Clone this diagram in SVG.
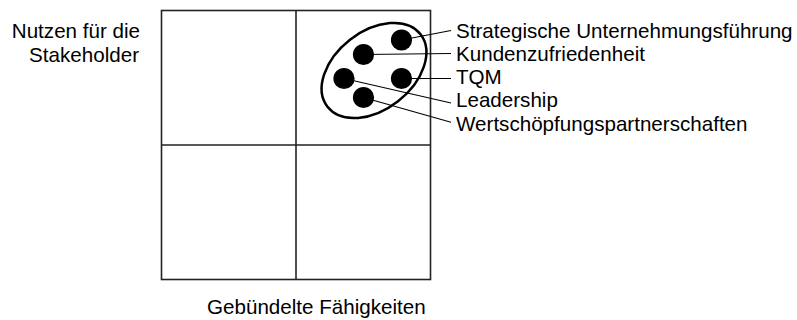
<svg xmlns="http://www.w3.org/2000/svg" width="797" height="320" viewBox="0 0 797 320">
  <style>
    .lbl { font-family: "Liberation Sans", Arial, sans-serif; font-size: 20.6px; fill: #000; }
    .grid { fill: none; stroke: #222; stroke-width: 1.6; }
    .lead { stroke: #000; stroke-width: 1.1; fill: none; }
    .dot { fill: #000; }
  </style>
  <rect width="797" height="320" fill="#fff"/>

  <!-- 2x2 portfolio grid -->
  <g id="matrix">
    <rect class="grid" x="161.5" y="10.5" width="269" height="269"/>
    <line class="grid" x1="296" y1="10.5" x2="296" y2="279.5"/>
    <line class="grid" x1="161.5" y1="145" x2="430.5" y2="145"/>
  </g>

  <!-- axis labels -->
  <g id="axis-y">
    <text class="lbl" x="140" y="38" text-anchor="end">Nutzen für die</text>
    <text class="lbl" x="139" y="62" text-anchor="end">Stakeholder</text>
  </g>
  <g id="axis-x">
    <text class="lbl" x="207" y="314">Gebündelte Fähigkeiten</text>
  </g>

  <!-- leader lines from the dots to their labels -->
  <g id="connectors">
    <line class="lead" x1="401.5" y1="40" x2="451" y2="30.5"/>
    <line class="lead" x1="363.5" y1="54.5" x2="451" y2="53.5"/>
    <line class="lead" x1="401.5" y1="78.5" x2="451" y2="78.5"/>
    <line class="lead" x1="344" y1="78.5" x2="451" y2="103"/>
    <line class="lead" x1="363.5" y1="97.5" x2="451" y2="122.3"/>
  </g>

  <!-- cluster outline -->
  <g id="cluster">
    <ellipse cx="374" cy="70.5" rx="59" ry="39" transform="rotate(-38 374 70.5)" fill="none" stroke="#000" stroke-width="2.5"/>
  </g>

  <g id="strategische">
    <circle class="dot" cx="401.5" cy="40" r="10.6"/>
    <text class="lbl" x="456" y="37.5">Strategische Unternehmungsführung</text>
  </g>
  <g id="kundenzufriedenheit">
    <circle class="dot" cx="363.5" cy="54.5" r="10.6"/>
    <text class="lbl" x="456" y="60.8">Kundenzufriedenheit</text>
  </g>
  <g id="tqm">
    <circle class="dot" cx="401.5" cy="78.5" r="10.6"/>
    <text class="lbl" x="456" y="84">TQM</text>
  </g>
  <g id="leadership">
    <circle class="dot" cx="344" cy="78.5" r="10.6"/>
    <text class="lbl" x="456" y="107.3">Leadership</text>
  </g>
  <g id="wertschoepfung">
    <circle class="dot" cx="363.5" cy="97.5" r="10.6"/>
    <text class="lbl" x="456" y="130.6">Wertschöpfungspartnerschaften</text>
  </g>
</svg>
